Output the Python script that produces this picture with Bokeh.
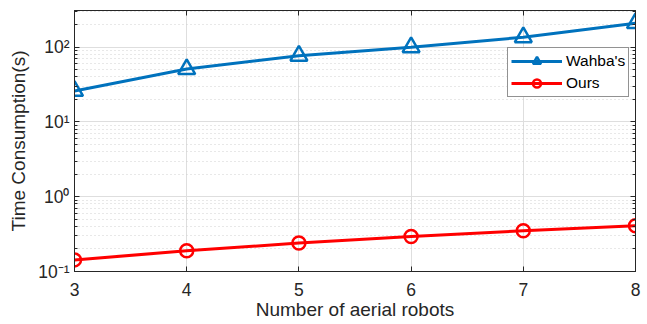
from bokeh.plotting import figure
from bokeh.models import Range1d, FixedTicker, LogAxis, LinearAxis, Legend, LegendItem
from bokeh.embed import file_html
from bokeh.resources import INLINE

robots = [3, 4, 5, 6, 7, 8]
wahba = [26, 51, 77, 100, 136, 210]
ours = [0.143, 0.189, 0.24, 0.294, 0.35, 0.41]
x_ticks = [3, 4, 5, 6, 7, 8]
y_ticks = [0.1, 1, 10, 100]
y_tick_labels = ["10\u207b\u00b9", "10\u2070", "10\u00b9", "10\u00b2"]
y_minor = [m * d for d in [0.1, 1, 10, 100] for m in range(2, 10)]

FONT = "Liberation Sans"
TXT = "#262626"

W, H = 645, 322
p = figure(width=W, height=H, output_backend="svg", toolbar_location=None,
           y_axis_type="log", x_range=Range1d(3, 8), y_range=Range1d(0.1, 310),
           min_border_left=74, min_border_right=10, min_border_top=10, min_border_bottom=51)
p.outline_line_color = TXT
p.outline_line_width = 1

yt = FixedTicker(ticks=y_ticks, minor_ticks=y_minor)
xt = FixedTicker(ticks=x_ticks)
p.yaxis.ticker = yt
p.xaxis.ticker = xt
p.yaxis.major_label_overrides = {t: l for t, l in zip(y_ticks, y_tick_labels)}

for ax in [p.xaxis[0], p.yaxis[0]]:
    ax.axis_line_color = TXT
    ax.major_tick_line_color = TXT
    ax.minor_tick_line_color = TXT
    ax.major_tick_in = 5
    ax.major_tick_out = 0
    ax.minor_tick_in = 3
    ax.minor_tick_out = 0
    ax.major_label_text_font = FONT
    ax.major_label_text_font_size = "17.5px"
    ax.major_label_text_color = TXT
    ax.major_label_text_line_height = 1.0
    ax.axis_label_text_font = FONT
    ax.axis_label_text_font_size = "19px"
    ax.axis_label_text_font_style = "normal"
    ax.axis_label_text_color = TXT
    ax.axis_label_text_line_height = 1.0
p.xaxis.major_label_standoff = 11
p.yaxis.major_label_standoff = 5
p.xaxis.axis_label = "Number of aerial robots"
p.yaxis.axis_label = "Time Consumption(s)"
p.xaxis.axis_label_standoff = 0
p.yaxis.axis_label_standoff = 6

# mirror axes (box with ticks), labels not drawn
ra = LogAxis(ticker=yt, major_label_text_font_size="1px", major_label_text_color=None,
             major_label_standoff=0,
             axis_line_color=TXT, major_tick_line_color=TXT, minor_tick_line_color=TXT,
             major_tick_in=5, major_tick_out=0, minor_tick_in=3, minor_tick_out=0)
ta = LinearAxis(ticker=xt, major_label_text_font_size="1px", major_label_text_color=None,
                major_label_standoff=0,
                axis_line_color=TXT, major_tick_line_color=TXT,
                major_tick_in=5, major_tick_out=0, minor_tick_line_color=None)
p.add_layout(ra, "right")
p.add_layout(ta, "above")

p.xgrid.grid_line_color = "#dedede"
p.ygrid.grid_line_color = "#dedede"
p.ygrid.minor_grid_line_color = "#d0d0d0"
p.ygrid.minor_grid_line_dash = "1 3"
p.ygrid.minor_grid_line_width = 1

BLUE = "#0072BD"
RED = "#FF0000"
l1 = p.line(robots, wahba, line_color=BLUE, line_width=3)
m1 = p.scatter(robots, wahba, marker="triangle", size=17, line_color=BLUE,
               line_width=2.5, fill_color=None)
l2 = p.line(robots, ours, line_color=RED, line_width=3)
m2 = p.scatter(robots, ours, marker="circle", size=13, line_color=RED,
               line_width=2.5, fill_color=None)

legend = Legend(items=[LegendItem(label="Wahba's", renderers=[l1, m1]),
                       LegendItem(label="Ours", renderers=[l2, m2])],
                location=(433, 174))
legend.label_text_font = FONT
legend.label_text_font_size = "15.5px"
legend.label_text_color = "#000000"
legend.glyph_width = 51
legend.glyph_height = 20
legend.label_height = 20
legend.label_standoff = 4
legend.spacing = 2
legend.padding = 3
legend.margin = 0
legend.border_line_color = TXT
legend.border_line_width = 1
legend.background_fill_color = "white"
legend.background_fill_alpha = 1
p.add_layout(legend, "center")

open("out.html", "w").write(file_html(p, INLINE))
